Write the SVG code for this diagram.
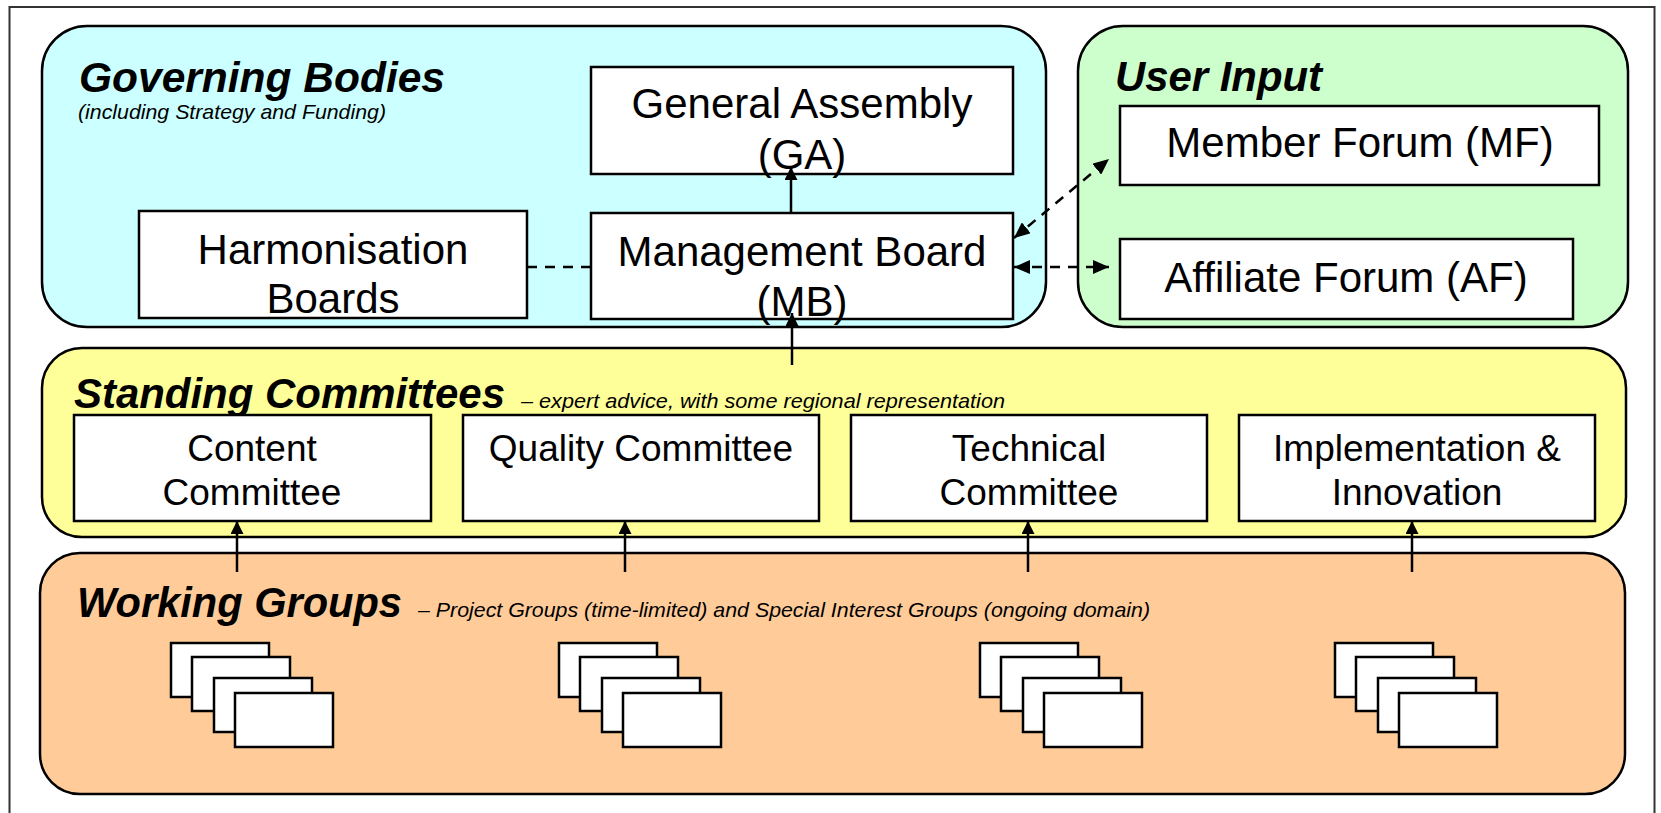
<svg xmlns="http://www.w3.org/2000/svg" width="1661" height="813" viewBox="0 0 1661 813">
  <defs>
    <style>
      .grp { stroke: #000; stroke-width: 2.5; }
      .box { fill: #fff; stroke: #000; stroke-width: 2.5; }
      .lbl { font-family: "Liberation Sans", Arial, sans-serif; font-size: 42px; fill: #000; text-anchor: middle; }
      .clbl { font-family: "Liberation Sans", Arial, sans-serif; font-size: 37px; fill: #000; text-anchor: middle; }
      .title { font-family: "Liberation Sans", Arial, sans-serif; font-size: 43px; font-weight: bold; font-style: italic; fill: #000; }
      .sub { font-family: "Liberation Sans", Arial, sans-serif; font-size: 21px; font-style: italic; fill: #000; }
      .solid { stroke: #000; stroke-width: 2.5; fill: none; }
      .dash { stroke: #000; stroke-width: 2.5; fill: none; stroke-dasharray: 10 8; }
    </style>
    <marker id="ah" viewBox="0 0 16 14" refX="16" refY="7" markerWidth="16" markerHeight="14" orient="auto-start-reverse" markerUnits="userSpaceOnUse">
      <path d="M0,0 L16,7 L0,14 z" fill="#000"/>
    </marker>
    <marker id="ahs" viewBox="0 0 13 13" refX="13" refY="6.5" markerWidth="13" markerHeight="13" orient="auto" markerUnits="userSpaceOnUse">
      <path d="M0,0 L13,6.5 L0,13 z" fill="#000"/>
    </marker>
    <g id="stack">
      <rect class="box" x="0" y="0" width="98" height="54"/>
      <rect class="box" x="21" y="14" width="98" height="54"/>
      <rect class="box" x="43" y="35" width="98" height="54"/>
      <rect class="box" x="64" y="50" width="98" height="54"/>
    </g>
  </defs>

  <rect x="0" y="0" width="1661" height="813" fill="#fff"/>
  <rect id="frame" x="9.5" y="7" width="1645" height="840" fill="none" stroke="#333" stroke-width="2"/>

  <g id="governing-bodies">
    <rect class="grp" x="42" y="26" width="1004" height="301" rx="45" ry="45" fill="#CCFFFF"/>
    <text class="title" x="79" y="92" textLength="366" lengthAdjust="spacingAndGlyphs">Governing Bodies</text>
    <text class="sub" x="78" y="119" textLength="308" lengthAdjust="spacingAndGlyphs">(including Strategy and Funding)</text>
  </g>

  <g id="user-input">
    <rect class="grp" x="1078" y="26" width="550" height="301" rx="45" ry="45" fill="#CCFFCC"/>
    <text class="title" x="1115" y="91" textLength="207" lengthAdjust="spacingAndGlyphs">User Input</text>
  </g>

  <g id="standing-committees">
    <rect class="grp" x="42" y="348" width="1584" height="189" rx="40" ry="40" fill="#FFFF99"/>
    <text class="title" x="74" y="408" textLength="431" lengthAdjust="spacingAndGlyphs">Standing Committees</text>
    <text class="sub" x="521" y="408" textLength="484" lengthAdjust="spacingAndGlyphs">– expert advice, with some regional representation</text>
  </g>

  <g id="working-groups">
    <rect class="grp" x="40" y="553" width="1585" height="241" rx="40" ry="40" fill="#FFCC99"/>
    <text class="title" x="77" y="617" textLength="325" lengthAdjust="spacingAndGlyphs">Working Groups</text>
    <text class="sub" x="418" y="617" textLength="732" lengthAdjust="spacingAndGlyphs">– Project Groups (time-limited) and Special Interest Groups (ongoing domain)</text>
  </g>

  <g id="general-assembly">
    <rect class="box" x="591" y="67" width="422" height="107"/>
    <text class="lbl" x="802" y="118">General Assembly</text>
    <text class="lbl" x="802" y="169">(GA)</text>
  </g>

  <g id="management-board">
    <rect class="box" x="591" y="213" width="422" height="106"/>
    <text class="lbl" x="802" y="266">Management Board</text>
    <text class="lbl" x="802" y="316">(MB)</text>
  </g>

  <g id="harmonisation-boards">
    <rect class="box" x="139" y="211" width="388" height="107"/>
    <text class="lbl" x="333" y="264">Harmonisation</text>
    <text class="lbl" x="333" y="313">Boards</text>
  </g>

  <g id="member-forum">
    <rect class="box" x="1120" y="106" width="479" height="79"/>
    <text class="lbl" x="1360" y="157">Member Forum (MF)</text>
  </g>

  <g id="affiliate-forum">
    <rect class="box" x="1120" y="239" width="453" height="80"/>
    <text class="lbl" x="1346" y="292">Affiliate Forum (AF)</text>
  </g>

  <g id="content-committee">
    <rect class="box" x="74" y="415" width="357" height="106"/>
    <text class="clbl" x="252" y="461">Content</text>
    <text class="clbl" x="252" y="505">Committee</text>
  </g>

  <g id="quality-committee">
    <rect class="box" x="463" y="415" width="356" height="106"/>
    <text class="clbl" x="641" y="461">Quality Committee</text>
  </g>

  <g id="technical-committee">
    <rect class="box" x="851" y="415" width="356" height="106"/>
    <text class="clbl" x="1029" y="461">Technical</text>
    <text class="clbl" x="1029" y="505">Committee</text>
  </g>

  <g id="implementation-innovation">
    <rect class="box" x="1239" y="415" width="356" height="106"/>
    <text class="clbl" x="1417" y="461">Implementation &amp;</text>
    <text class="clbl" x="1417" y="505">Innovation</text>
  </g>

  <g id="wg-content"><use href="#stack" x="171" y="643"/></g>
  <g id="wg-quality"><use href="#stack" x="559" y="643"/></g>
  <g id="wg-technical"><use href="#stack" x="980" y="643"/></g>
  <g id="wg-implementation"><use href="#stack" x="1335" y="643"/></g>

  <g id="connectors">
    <line class="solid" x1="791" y1="214" x2="791" y2="167" marker-end="url(#ahs)"/>
    <line class="solid" x1="792" y1="365" x2="792" y2="313" marker-end="url(#ahs)"/>
    <line class="dash" x1="527" y1="267" x2="591" y2="267"/>
    <line class="dash" x1="1014" y1="238" x2="1109" y2="159" marker-start="url(#ah)" marker-end="url(#ah)"/>
    <line class="dash" x1="1014" y1="267" x2="1109" y2="267" marker-start="url(#ah)" marker-end="url(#ah)"/>
    <line class="solid" x1="237" y1="572" x2="237" y2="521" marker-end="url(#ahs)"/>
    <line class="solid" x1="625" y1="572" x2="625" y2="521" marker-end="url(#ahs)"/>
    <line class="solid" x1="1028" y1="572" x2="1028" y2="521" marker-end="url(#ahs)"/>
    <line class="solid" x1="1412" y1="572" x2="1412" y2="521" marker-end="url(#ahs)"/>
  </g>
</svg>
